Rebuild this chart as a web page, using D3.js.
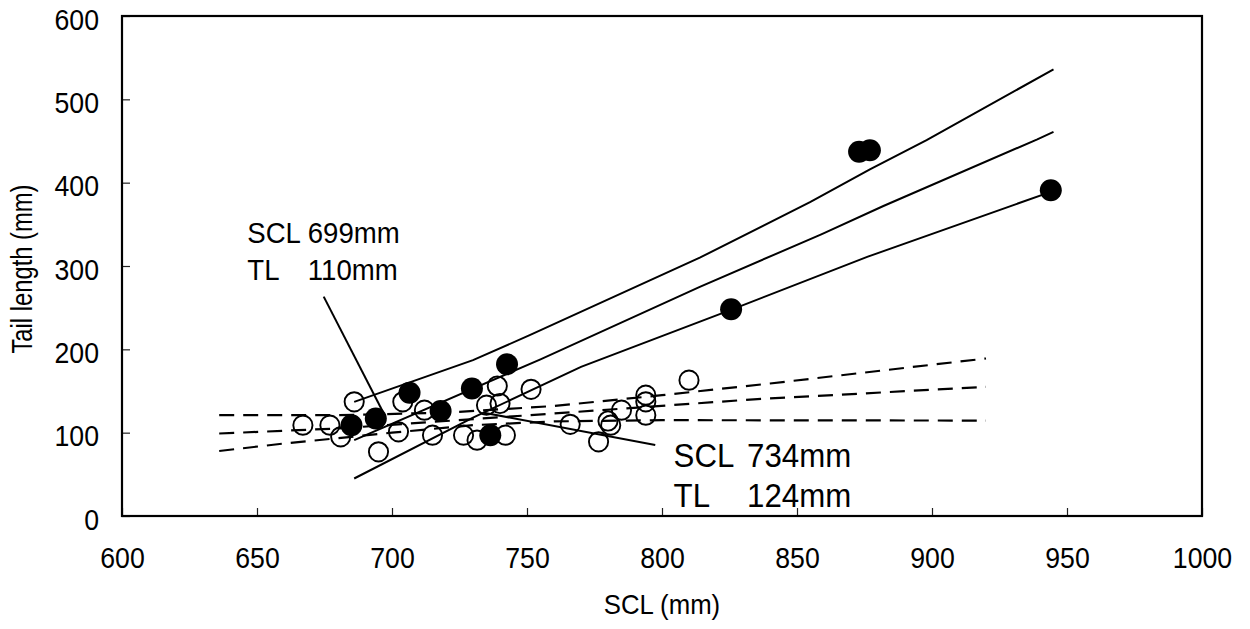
<!DOCTYPE html>
<html>
<head>
<meta charset="utf-8">
<script src="https://cdn.jsdelivr.net/npm/d3@7"></script>
<style>
  html, body { margin: 0; padding: 0; background: #fff; }
  svg { display: block; font-family: "Liberation Sans", Arial, sans-serif; }
</style>
</head>
<body>
<svg id="chart" width="1250" height="629"></svg>
<script>
// Tick labels
const xTicks = [600, 650, 700, 750, 800, 850, 900, 950, 1000];
const yTicks = [0, 100, 200, 300, 400, 500, 600];

// Turtles with tail length above the threshold (filled) : [SCL, TL]
const filledPts = [
  [685, 109], [694, 117], [706.5, 148], [718, 126], [729.6, 153],
  [742.6, 182], [736.4, 97], [825.6, 248], [873, 437], [877, 439], [944, 391]
];
// Remaining turtles (open)
const openPts = [
  [667, 109], [677, 109], [681, 95], [686, 137], [695, 77], [702.4, 101],
  [704, 137], [712, 127], [715, 97], [726.5, 97], [731.5, 91], [735, 133],
  [739, 156], [740, 135], [742, 97], [751.5, 152], [766, 110], [776.5, 89],
  [780, 114], [781, 109], [785, 127], [794, 145], [794, 137], [794, 121], [810, 163]
];

// Regression (solid) with its confidence limits
const solidUpper = [[686, 137], [730, 187], [751, 217], [814, 310], [855, 377], [877, 416], [898, 451], [945, 536]];
const solidMid   = [[686, 91], [755, 188], [814, 275], [859, 338], [882, 372], [939, 452], [945, 461]];
const solidLower = [[686, 45], [730, 118], [770, 179], [826, 248], [876, 311], [944, 389]];

// Regression (dashed) with its confidence limits
const dashUpper = [[636, 121], [680, 121], [720, 124], [760, 132], [800, 145], [840, 159], [880, 174], [920, 189]];
const dashMid   = [[636, 99], [680, 105], [760, 123], [834, 140], [920, 155]];
const dashLower = [[636, 78], [660, 87], [685, 95], [700, 100], [730, 109], [760, 113.5], [800, 115], [920, 114.5]];

// Annotated crossing points
const notes = [
  { scl: 699, tl: 110, sclText: "699mm", tlText: "110mm", labelX: 646.4, labelY: 327.6, numX: 668.8, lineGap: 37, size: 30, leaderFrom: [674.7, 263.2], fromLabel: true },
  { scl: 734, tl: 124, sclText: "734mm", tlText: "124mm", labelX: 804.3, labelY: 58.8, numX: 831.5, lineGap: 40, size: 34, leaderTo: [797.5, 85.2], fromLabel: false }
];

const svg = d3.select("#chart");
const margin = { left: 122, right: 48, top: 16, bottom: 113 };
const W = 1250, H = 629;
const squeeze = 0.92;   // glyphs are set slightly condensed

const x = d3.scaleLinear().domain([600, 1000]).range([margin.left, W - margin.right]);
const y = d3.scaleLinear().domain([0, 600]).range([H - margin.bottom, margin.top]);

// Condensed text placed at (px, py)
function label(parent, px, py, str, size, sx, anchor) {
  return parent.append("text")
    .attr("transform", `translate(${px},${py}) scale(${sx},1)`)
    .attr("text-anchor", anchor || "start")
    .style("font-size", size + "px")
    .text(str);
}

// Axes with inward ticks
const xAxis = d3.axisBottom(x).tickValues(xTicks).tickSizeInner(-8).tickSizeOuter(0).tickPadding(31).tickFormat(d3.format("d"));
const yAxis = d3.axisLeft(y).tickValues(yTicks).tickSizeInner(-8).tickSizeOuter(0).tickPadding(23 / squeeze).tickFormat(d3.format("d"));

const gx = svg.append("g").attr("transform", `translate(0,${y(0)})`).call(xAxis);
const gy = svg.append("g").attr("transform", `translate(${x(600)},0)`).call(yAxis);
[gx, gy].forEach(g => {
  g.select(".domain").remove();
  g.selectAll(".tick line").attr("stroke", "#222").attr("stroke-width", 1.2);
  g.selectAll(".tick text").attr("fill", "#000")
    .attr("transform", `scale(${squeeze},1)`)
    .style("font-size", "29px").style("font-family", "'Liberation Sans', Arial, sans-serif");
});
gy.selectAll(".tick text").attr("dy", "0.45em");

// Frame
svg.append("rect")
  .attr("x", x(600)).attr("y", y(600))
  .attr("width", x(1000) - x(600)).attr("height", y(0) - y(600))
  .attr("fill", "none").attr("stroke", "#000").attr("stroke-width", 2.2);

// Axis titles
label(svg, (x(600) + x(1000)) / 2, 614, "SCL (mm)", 28, squeeze, "middle");
svg.append("text")
  .attr("transform", `translate(32,${(y(0) + y(600)) / 2 + 3}) rotate(-90) scale(0.82,1)`)
  .attr("text-anchor", "middle").style("font-size", "29px").text("Tail length (mm)");

const line = d3.line().x(d => x(d[0])).y(d => y(d[1]));

const lines = svg.append("g").attr("fill", "none").attr("stroke", "#000");
[solidUpper, solidMid, solidLower].forEach(s =>
  lines.append("path").attr("d", line(s)).attr("stroke-width", 2));
[dashUpper, dashMid, dashLower].forEach(s =>
  lines.append("path").attr("d", line(s)).attr("stroke-width", 2.2).attr("stroke-dasharray", "15,9"));

// Leader lines and labels
notes.forEach(n => {
  const ax = x(n.scl), ay = y(n.tl);
  if (n.fromLabel) {
    const sx = x(n.leaderFrom[0]), sy = y(n.leaderFrom[1]);
    const dx = ax - sx, dy = ay - sy, len = Math.hypot(dx, dy);
    const k = (len - 9) / len;
    svg.append("line").attr("x1", sx).attr("y1", sy).attr("x2", sx + dx * k).attr("y2", sy + dy * k)
      .attr("stroke", "#000").attr("stroke-width", 2);
  } else {
    svg.append("line").attr("x1", ax).attr("y1", ay).attr("x2", x(n.leaderTo[0])).attr("y2", y(n.leaderTo[1]))
      .attr("stroke", "#000").attr("stroke-width", 2);
  }
  const g = svg.append("g");
  label(g, x(n.labelX), y(n.labelY), "SCL", n.size, squeeze);
  label(g, x(n.numX), y(n.labelY), n.sclText, n.size, squeeze);
  label(g, x(n.labelX), y(n.labelY) + n.lineGap, "TL", n.size, squeeze);
  label(g, x(n.numX), y(n.labelY) + n.lineGap, n.tlText, n.size, squeeze);
});

// Points
svg.append("g").selectAll("circle").data(openPts).join("circle")
  .attr("cx", d => x(d[0])).attr("cy", d => y(d[1])).attr("r", 9.6)
  .attr("fill", "none").attr("stroke", "#000").attr("stroke-width", 1.9);
svg.append("g").selectAll("circle").data(filledPts).join("circle")
  .attr("cx", d => x(d[0])).attr("cy", d => y(d[1])).attr("r", 11)
  .attr("fill", "#000");
</script>
</body>
</html>
